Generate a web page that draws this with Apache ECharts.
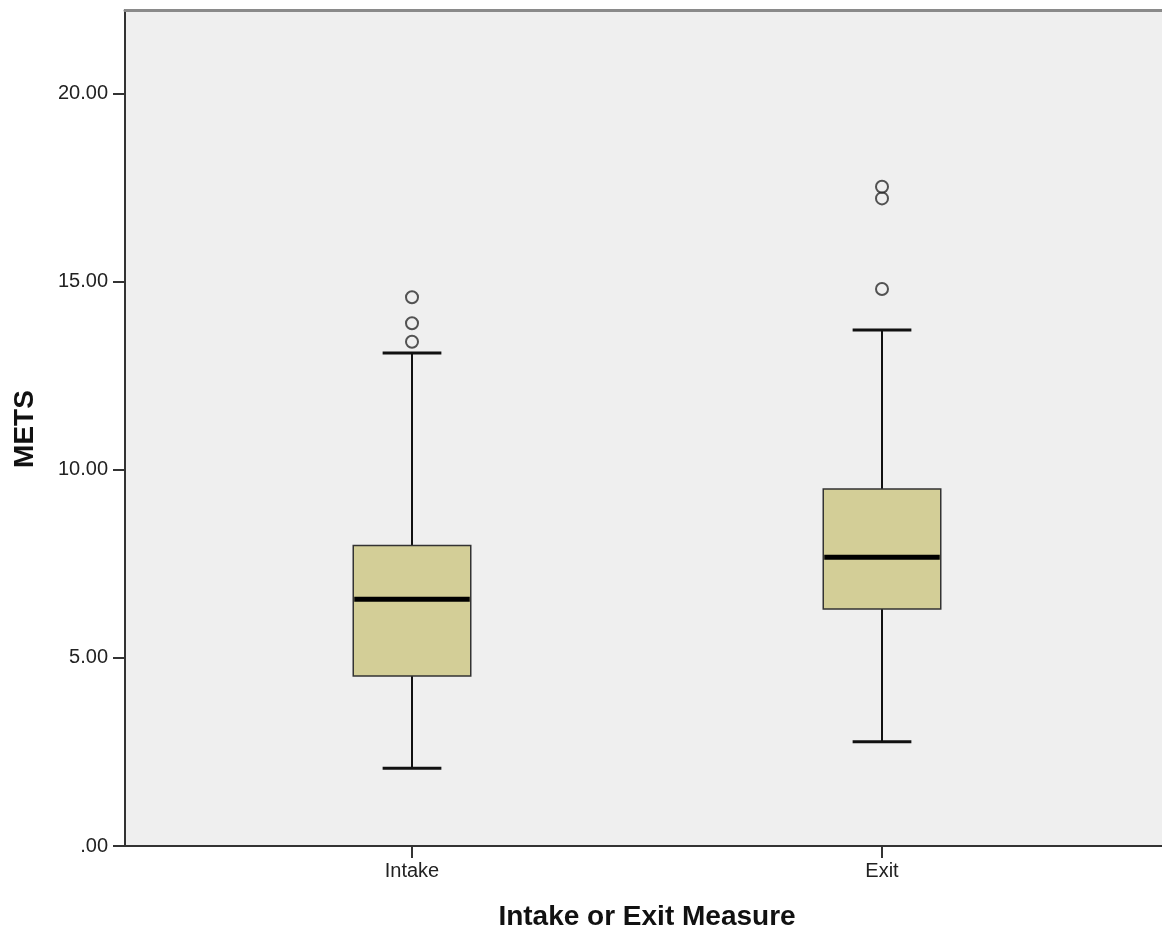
<!DOCTYPE html>
<html>
<head>
<meta charset="utf-8">
<script src="https://cdn.jsdelivr.net/npm/echarts@6/dist/echarts.min.js"></script>
<style>
html,body{margin:0;padding:0;background:#fff;}
#chart{width:1162px;height:934px;}
</style>
</head>
<body>
<div id="chart"></div>
<script>
// ---- data ----
const categories = ['Intake', 'Exit'];
// [min whisker, Q1, median, Q3, max whisker]
const intakeStats = [2.07, 4.52, 6.56, 7.99, 13.11];
const exitStats = [2.77, 6.30, 7.68, 9.49, 13.72];
const intakeOutliers = [14.59, 13.90, 13.41];
const exitOutliers = [17.53, 17.22, 14.81];
const yTicks = [0, 5, 10, 15, 20];
const yMin = 0;
const yMax = 22.23;

const boxData = [[0].concat(intakeStats), [1].concat(exitStats)];
const outlierData = intakeOutliers.map(v => [0, v]).concat(exitOutliers.map(v => [1, v]));

const FONT = '"Liberation Sans", Arial, sans-serif';

const chart = echarts.init(document.getElementById('chart'), null, {renderer: 'canvas'});

function renderBox(params, api) {
  const i = api.value(0);
  const cx = api.coord([i, api.value(3)])[0];
  const band = api.size([1, 0])[0];
  const bw = band * 0.25;
  const cw = bw * 0.5;
  const y = k => api.coord([i, api.value(k)])[1];
  const yLo = y(1), q1 = y(2), med = y(3), q3 = y(4), yHi = y(5);
  const line = (x1, y1, x2, y2, w, c) => ({
    type: 'line', shape: {x1, y1, x2, y2},
    style: {stroke: c || '#111', lineWidth: w}
  });
  return {
    type: 'group',
    children: [
      line(cx, q3, cx, yHi, 2),
      line(cx, q1, cx, yLo, 2),
      line(cx - cw / 2, yHi, cx + cw / 2, yHi, 3),
      line(cx - cw / 2, yLo, cx + cw / 2, yLo, 3),
      {
        type: 'rect',
        shape: {x: cx - bw / 2, y: q3, width: bw, height: q1 - q3},
        style: {fill: '#d3ce97', stroke: '#333', lineWidth: 1.5}
      },
      line(cx - bw / 2 + 1, med, cx + bw / 2 - 1, med, 5, '#000')
    ]
  };
}

const option = {
  animation: false,
  backgroundColor: '#ffffff',
  grid: [
    {left: 125, right: 0, top: 10, bottom: 88, show: true, backgroundColor: '#efefef', borderWidth: 0},
    {left: 177, right: 45, top: 10, bottom: 88}
  ],
  xAxis: [
    {gridIndex: 0, type: 'value', min: 0, max: 1, position: 'bottom',
     axisLine: {show: true, lineStyle: {color: '#333', width: 2}},
     axisTick: {show: false}, axisLabel: {show: false}, splitLine: {show: false}},
    {gridIndex: 0, type: 'value', min: 0, max: 1, position: 'top',
     axisLine: {show: true, lineStyle: {color: '#8a8a8a', width: 3}},
     axisTick: {show: false}, axisLabel: {show: false}, splitLine: {show: false}},
    {gridIndex: 1, type: 'category', data: categories, position: 'bottom',
     axisLine: {show: false},
     axisTick: {show: true, alignWithLabel: true, length: 12, lineStyle: {color: '#333', width: 2}},
     axisLabel: {fontSize: 20, color: '#222', margin: 15, fontFamily: FONT},
     splitLine: {show: false}}
  ],
  yAxis: [
    {gridIndex: 0, type: 'value', min: yMin, max: yMax,
     axisLine: {show: true, lineStyle: {color: '#333', width: 2}},
     axisTick: {show: true, customValues: yTicks, length: 12, lineStyle: {color: '#333', width: 2}},
     axisLabel: {customValues: yTicks, fontSize: 20, color: '#222', margin: 17, fontFamily: FONT,
       padding: [6, 0, 0, 0],
       formatter: v => v === 0 ? '.00' : v.toFixed(2)},
     splitLine: {show: false}},
    {gridIndex: 1, type: 'value', min: yMin, max: yMax, show: false}
  ],
  series: [
    {type: 'custom', xAxisIndex: 2, yAxisIndex: 1, data: boxData,
     encode: {x: 0, y: [1, 2, 3, 4, 5]}, renderItem: renderBox, silent: true, z: 2},
    {type: 'scatter', xAxisIndex: 2, yAxisIndex: 1, data: outlierData,
     symbol: 'circle', symbolSize: 12, silent: true, z: 3,
     itemStyle: {color: 'rgba(0,0,0,0)', borderColor: '#2a2a2a', borderWidth: 2}}
  ],
  graphic: [
    {type: 'text', x: 25, y: 429, rotation: Math.PI / 2,
     style: {text: 'METS', font: 'bold 28px ' + FONT, fill: '#111', textAlign: 'center', textVerticalAlign: 'middle'}},
    {type: 'text', x: 647, y: 917,
     style: {text: 'Intake or Exit Measure', font: 'bold 28px ' + FONT, fill: '#111', textAlign: 'center', textVerticalAlign: 'middle'}}
  ]
};
chart.setOption(option);
</script>
</body>
</html>
